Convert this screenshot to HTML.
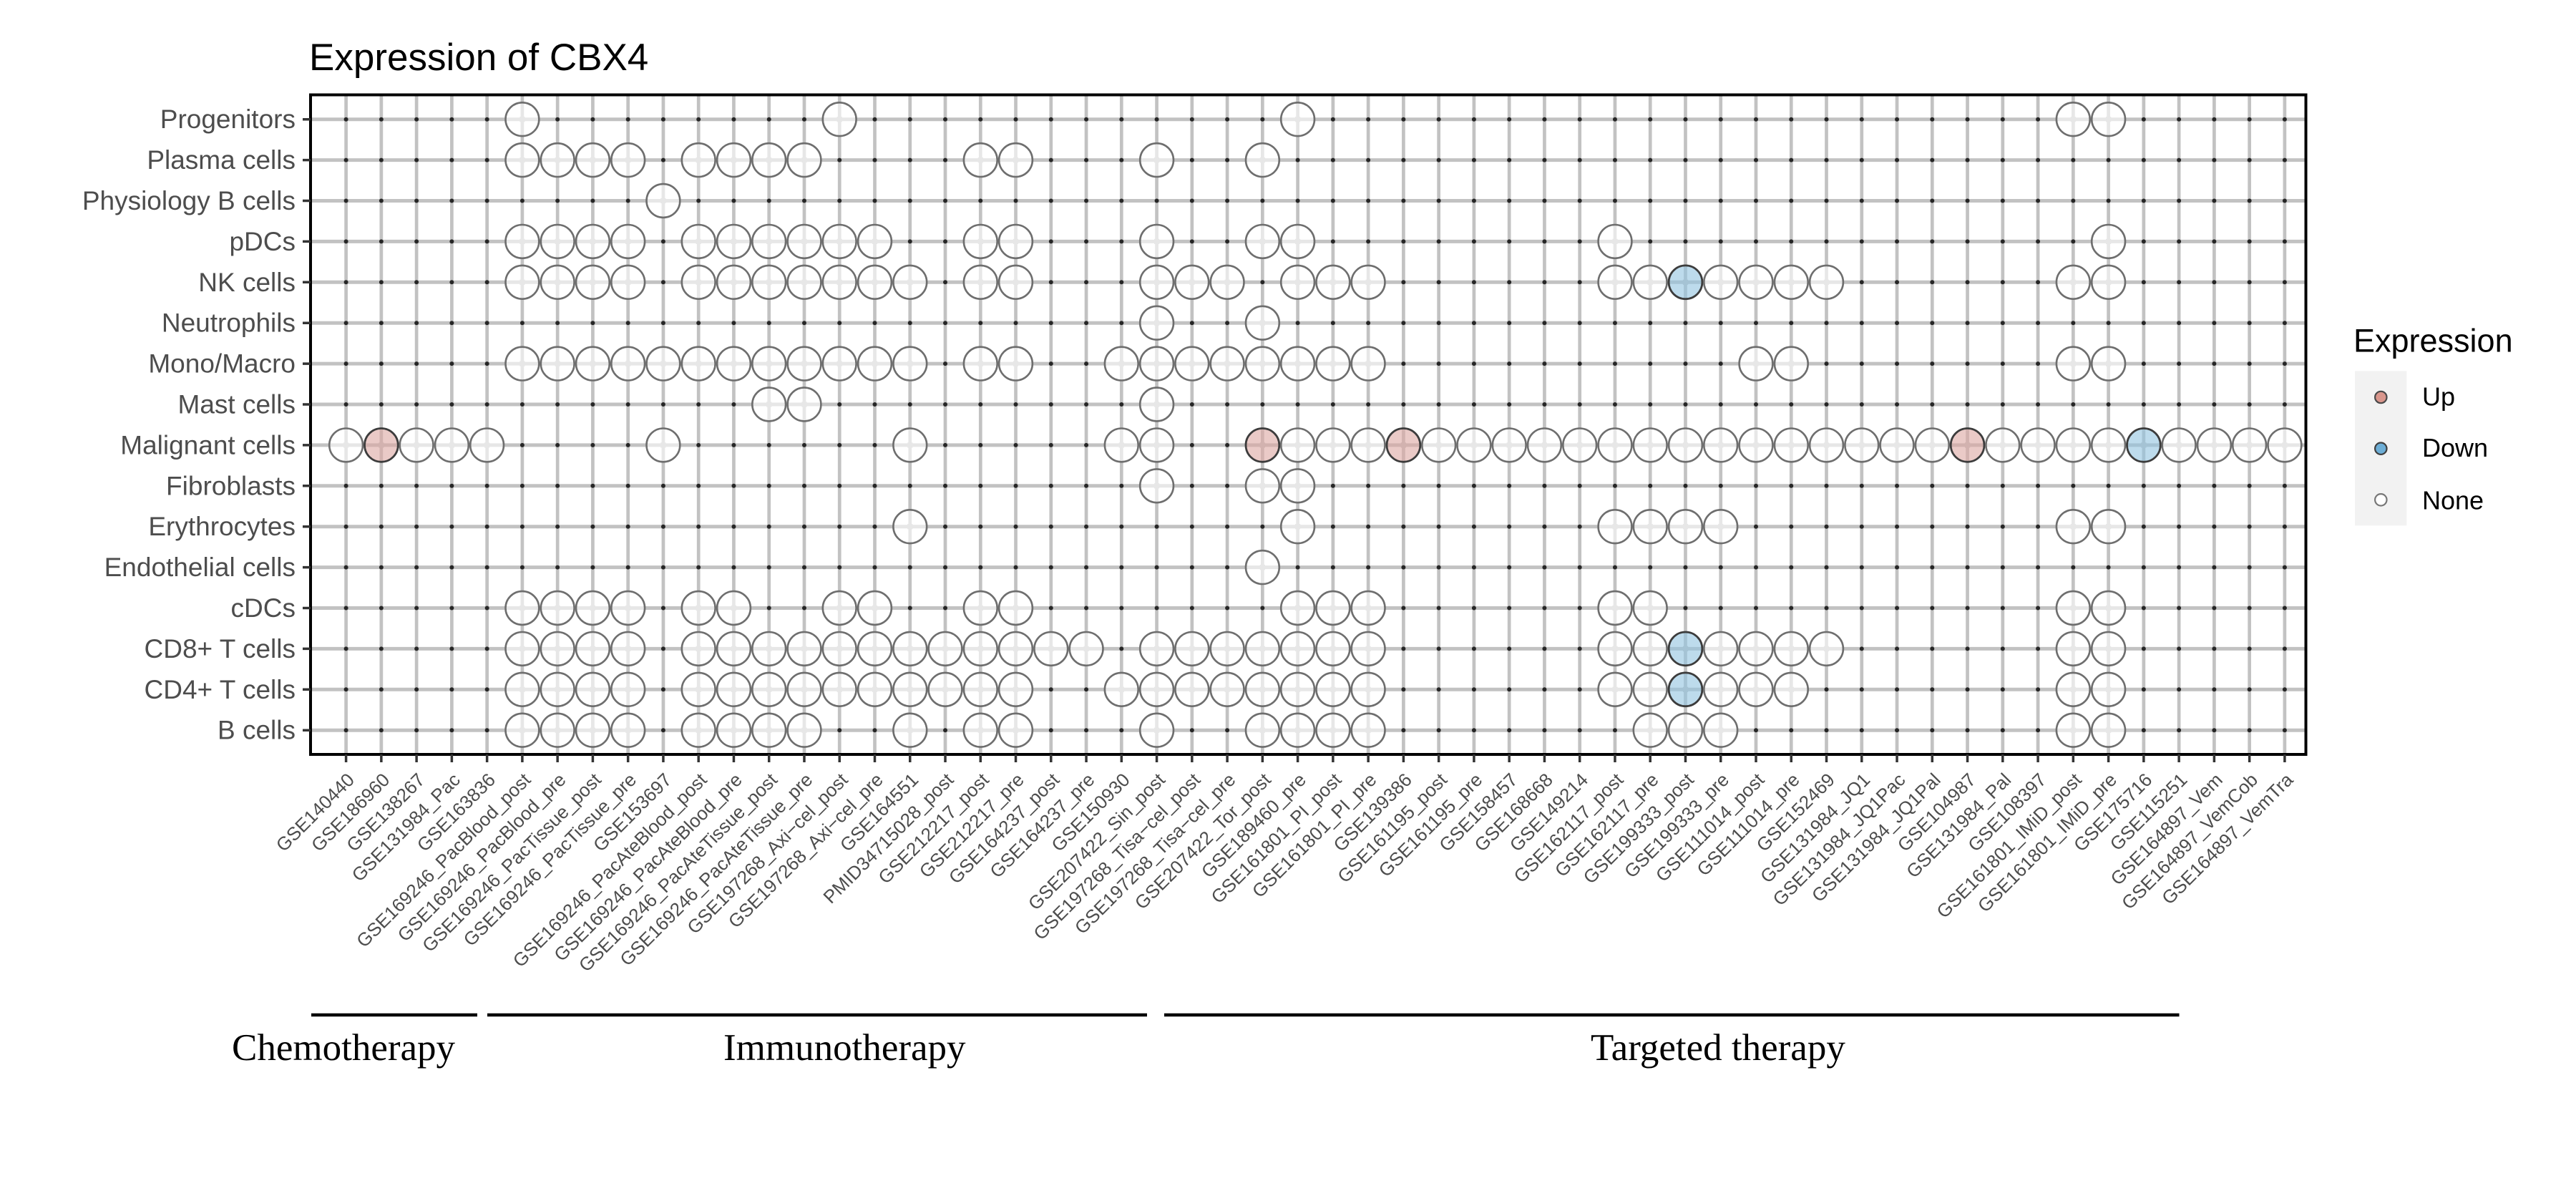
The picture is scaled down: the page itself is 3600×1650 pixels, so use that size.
<!DOCTYPE html>
<html><head><meta charset="utf-8"><style>
html,body{margin:0;padding:0;background:#fff;}
svg{display:block;}
text{font-family:"Liberation Sans",Arial,sans-serif;}
.yl{font-size:37px;fill:#4d4d4d;text-anchor:end;}
.xl{font-size:26px;fill:#4d4d4d;text-anchor:end;}
.dot{stroke:#262626;stroke-width:6;stroke-linecap:round;stroke-dasharray:0 49.26;}
.grp{font-family:"Liberation Serif","Times New Roman",serif;font-size:53px;fill:#000;}
.lg{font-size:36px;fill:#000;}
</style></head><body>
<svg width="3600" height="1650" viewBox="0 0 3600 1650" xmlns="http://www.w3.org/2000/svg">
<defs>
<g id="n"><rect x="-3.6" y="-3.6" width="7.2" height="7.2" fill="#c2c2c2"/><circle r="23.4" fill="#fff" fill-opacity="0.6" stroke="#6e6e6e" stroke-width="2.6"/></g>
<g id="u"><rect x="-3.6" y="-3.6" width="7.2" height="7.2" fill="#c2c2c2"/><circle r="23.4" fill="rgb(220,167,162)" fill-opacity="0.6" stroke="#3c3c3c" stroke-width="2.8"/></g>
<g id="d"><rect x="-3.6" y="-3.6" width="7.2" height="7.2" fill="#c2c2c2"/><circle r="23.4" fill="rgb(145,195,223)" fill-opacity="0.6" stroke="#3c3c3c" stroke-width="2.8"/></g>
</defs>
<rect width="3600" height="1650" fill="#fff"/>

<text x="432" y="98" font-size="53" fill="#000">Expression of CBX4</text>

<!-- grid -->
<line x1="481.25" x2="3210" y1="593" y2="593" stroke="#c2c2c2" stroke-width="918" stroke-dasharray="4.7 44.56"/>
<line x1="1828" x2="1828" y1="164.2" y2="1030" stroke="#c2c2c2" stroke-width="2786" stroke-dasharray="5 51.9"/>

<!-- dots -->
<line class="dot" x1="483.6" x2="3200" y1="166.7" y2="166.7"/>
<line class="dot" x1="483.6" x2="3200" y1="223.6" y2="223.6"/>
<line class="dot" x1="483.6" x2="3200" y1="280.5" y2="280.5"/>
<line class="dot" x1="483.6" x2="3200" y1="337.4" y2="337.4"/>
<line class="dot" x1="483.6" x2="3200" y1="394.3" y2="394.3"/>
<line class="dot" x1="483.6" x2="3200" y1="451.2" y2="451.2"/>
<line class="dot" x1="483.6" x2="3200" y1="508.1" y2="508.1"/>
<line class="dot" x1="483.6" x2="3200" y1="565" y2="565"/>
<line class="dot" x1="483.6" x2="3200" y1="621.9" y2="621.9"/>
<line class="dot" x1="483.6" x2="3200" y1="678.8" y2="678.8"/>
<line class="dot" x1="483.6" x2="3200" y1="735.7" y2="735.7"/>
<line class="dot" x1="483.6" x2="3200" y1="792.6" y2="792.6"/>
<line class="dot" x1="483.6" x2="3200" y1="849.5" y2="849.5"/>
<line class="dot" x1="483.6" x2="3200" y1="906.4" y2="906.4"/>
<line class="dot" x1="483.6" x2="3200" y1="963.3" y2="963.3"/>
<line class="dot" x1="483.6" x2="3200" y1="1020.2" y2="1020.2"/>

<!-- circles -->
<g transform="translate(0,166.7)">
<use href="#n" x="729.9"/><use href="#n" x="1173.2"/><use href="#n" x="1813.6"/><use href="#n" x="2897.3"/><use href="#n" x="2946.6"/>
</g>
<g transform="translate(0,223.6)">
<use href="#n" x="729.9"/><use href="#n" x="779.2"/><use href="#n" x="828.4"/><use href="#n" x="877.7"/><use href="#n" x="976.2"/><use href="#n" x="1025.5"/><use href="#n" x="1074.7"/><use href="#n" x="1124"/><use href="#n" x="1370.3"/><use href="#n" x="1419.5"/><use href="#n" x="1616.6"/><use href="#n" x="1764.4"/>
</g>
<g transform="translate(0,280.5)">
<use href="#n" x="926.9"/>
</g>
<g transform="translate(0,337.4)">
<use href="#n" x="729.9"/><use href="#n" x="779.2"/><use href="#n" x="828.4"/><use href="#n" x="877.7"/><use href="#n" x="976.2"/><use href="#n" x="1025.5"/><use href="#n" x="1074.7"/><use href="#n" x="1124"/><use href="#n" x="1173.2"/><use href="#n" x="1222.5"/><use href="#n" x="1370.3"/><use href="#n" x="1419.5"/><use href="#n" x="1616.6"/><use href="#n" x="1764.4"/><use href="#n" x="1813.6"/><use href="#n" x="2257"/><use href="#n" x="2946.6"/>
</g>
<g transform="translate(0,394.3)">
<use href="#n" x="729.9"/><use href="#n" x="779.2"/><use href="#n" x="828.4"/><use href="#n" x="877.7"/><use href="#n" x="976.2"/><use href="#n" x="1025.5"/><use href="#n" x="1074.7"/><use href="#n" x="1124"/><use href="#n" x="1173.2"/><use href="#n" x="1222.5"/><use href="#n" x="1271.8"/><use href="#n" x="1370.3"/><use href="#n" x="1419.5"/><use href="#n" x="1616.6"/><use href="#n" x="1665.8"/><use href="#n" x="1715.1"/><use href="#n" x="1813.6"/><use href="#n" x="1862.9"/><use href="#n" x="1912.1"/><use href="#n" x="2257"/><use href="#n" x="2306.2"/><use href="#d" x="2355.5"/><use href="#n" x="2404.7"/><use href="#n" x="2454"/><use href="#n" x="2503.3"/><use href="#n" x="2552.5"/><use href="#n" x="2897.3"/><use href="#n" x="2946.6"/>
</g>
<g transform="translate(0,451.2)">
<use href="#n" x="1616.6"/><use href="#n" x="1764.4"/>
</g>
<g transform="translate(0,508.1)">
<use href="#n" x="729.9"/><use href="#n" x="779.2"/><use href="#n" x="828.4"/><use href="#n" x="877.7"/><use href="#n" x="926.9"/><use href="#n" x="976.2"/><use href="#n" x="1025.5"/><use href="#n" x="1074.7"/><use href="#n" x="1124"/><use href="#n" x="1173.2"/><use href="#n" x="1222.5"/><use href="#n" x="1271.8"/><use href="#n" x="1370.3"/><use href="#n" x="1419.5"/><use href="#n" x="1567.3"/><use href="#n" x="1616.6"/><use href="#n" x="1665.8"/><use href="#n" x="1715.1"/><use href="#n" x="1764.4"/><use href="#n" x="1813.6"/><use href="#n" x="1862.9"/><use href="#n" x="1912.1"/><use href="#n" x="2454"/><use href="#n" x="2503.3"/><use href="#n" x="2897.3"/><use href="#n" x="2946.6"/>
</g>
<g transform="translate(0,565)">
<use href="#n" x="1074.7"/><use href="#n" x="1124"/><use href="#n" x="1616.6"/>
</g>
<g transform="translate(0,621.9)">
<use href="#n" x="483.6"/><use href="#u" x="532.9"/><use href="#n" x="582.1"/><use href="#n" x="631.4"/><use href="#n" x="680.6"/><use href="#n" x="926.9"/><use href="#n" x="1271.8"/><use href="#n" x="1567.3"/><use href="#n" x="1616.6"/><use href="#u" x="1764.4"/><use href="#n" x="1813.6"/><use href="#n" x="1862.9"/><use href="#n" x="1912.1"/><use href="#u" x="1961.4"/><use href="#n" x="2010.7"/><use href="#n" x="2059.9"/><use href="#n" x="2109.2"/><use href="#n" x="2158.4"/><use href="#n" x="2207.7"/><use href="#n" x="2257"/><use href="#n" x="2306.2"/><use href="#n" x="2355.5"/><use href="#n" x="2404.7"/><use href="#n" x="2454"/><use href="#n" x="2503.3"/><use href="#n" x="2552.5"/><use href="#n" x="2601.8"/><use href="#n" x="2651"/><use href="#n" x="2700.3"/><use href="#u" x="2749.6"/><use href="#n" x="2798.8"/><use href="#n" x="2848.1"/><use href="#n" x="2897.3"/><use href="#n" x="2946.6"/><use href="#d" x="2995.9"/><use href="#n" x="3045.1"/><use href="#n" x="3094.4"/><use href="#n" x="3143.6"/><use href="#n" x="3192.9"/>
</g>
<g transform="translate(0,678.8)">
<use href="#n" x="1616.6"/><use href="#n" x="1764.4"/><use href="#n" x="1813.6"/>
</g>
<g transform="translate(0,735.7)">
<use href="#n" x="1271.8"/><use href="#n" x="1813.6"/><use href="#n" x="2257"/><use href="#n" x="2306.2"/><use href="#n" x="2355.5"/><use href="#n" x="2404.7"/><use href="#n" x="2897.3"/><use href="#n" x="2946.6"/>
</g>
<g transform="translate(0,792.6)">
<use href="#n" x="1764.4"/>
</g>
<g transform="translate(0,849.5)">
<use href="#n" x="729.9"/><use href="#n" x="779.2"/><use href="#n" x="828.4"/><use href="#n" x="877.7"/><use href="#n" x="976.2"/><use href="#n" x="1025.5"/><use href="#n" x="1173.2"/><use href="#n" x="1222.5"/><use href="#n" x="1370.3"/><use href="#n" x="1419.5"/><use href="#n" x="1813.6"/><use href="#n" x="1862.9"/><use href="#n" x="1912.1"/><use href="#n" x="2257"/><use href="#n" x="2306.2"/><use href="#n" x="2897.3"/><use href="#n" x="2946.6"/>
</g>
<g transform="translate(0,906.4)">
<use href="#n" x="729.9"/><use href="#n" x="779.2"/><use href="#n" x="828.4"/><use href="#n" x="877.7"/><use href="#n" x="976.2"/><use href="#n" x="1025.5"/><use href="#n" x="1074.7"/><use href="#n" x="1124"/><use href="#n" x="1173.2"/><use href="#n" x="1222.5"/><use href="#n" x="1271.8"/><use href="#n" x="1321"/><use href="#n" x="1370.3"/><use href="#n" x="1419.5"/><use href="#n" x="1468.8"/><use href="#n" x="1518.1"/><use href="#n" x="1616.6"/><use href="#n" x="1665.8"/><use href="#n" x="1715.1"/><use href="#n" x="1764.4"/><use href="#n" x="1813.6"/><use href="#n" x="1862.9"/><use href="#n" x="1912.1"/><use href="#n" x="2257"/><use href="#n" x="2306.2"/><use href="#d" x="2355.5"/><use href="#n" x="2404.7"/><use href="#n" x="2454"/><use href="#n" x="2503.3"/><use href="#n" x="2552.5"/><use href="#n" x="2897.3"/><use href="#n" x="2946.6"/>
</g>
<g transform="translate(0,963.3)">
<use href="#n" x="729.9"/><use href="#n" x="779.2"/><use href="#n" x="828.4"/><use href="#n" x="877.7"/><use href="#n" x="976.2"/><use href="#n" x="1025.5"/><use href="#n" x="1074.7"/><use href="#n" x="1124"/><use href="#n" x="1173.2"/><use href="#n" x="1222.5"/><use href="#n" x="1271.8"/><use href="#n" x="1321"/><use href="#n" x="1370.3"/><use href="#n" x="1419.5"/><use href="#n" x="1567.3"/><use href="#n" x="1616.6"/><use href="#n" x="1665.8"/><use href="#n" x="1715.1"/><use href="#n" x="1764.4"/><use href="#n" x="1813.6"/><use href="#n" x="1862.9"/><use href="#n" x="1912.1"/><use href="#n" x="2257"/><use href="#n" x="2306.2"/><use href="#d" x="2355.5"/><use href="#n" x="2404.7"/><use href="#n" x="2454"/><use href="#n" x="2503.3"/><use href="#n" x="2897.3"/><use href="#n" x="2946.6"/>
</g>
<g transform="translate(0,1020.2)">
<use href="#n" x="729.9"/><use href="#n" x="779.2"/><use href="#n" x="828.4"/><use href="#n" x="877.7"/><use href="#n" x="976.2"/><use href="#n" x="1025.5"/><use href="#n" x="1074.7"/><use href="#n" x="1124"/><use href="#n" x="1271.8"/><use href="#n" x="1370.3"/><use href="#n" x="1419.5"/><use href="#n" x="1616.6"/><use href="#n" x="1764.4"/><use href="#n" x="1813.6"/><use href="#n" x="1862.9"/><use href="#n" x="1912.1"/><use href="#n" x="2306.2"/><use href="#n" x="2355.5"/><use href="#n" x="2404.7"/><use href="#n" x="2897.3"/><use href="#n" x="2946.6"/>
</g>

<!-- border & ticks -->
<rect x="434" y="132.5" width="2788.5" height="921.5" fill="none" stroke="#000" stroke-width="4"/>
<line x1="428.5" x2="428.5" y1="164.95" y2="1030" stroke="#333" stroke-width="11" stroke-dasharray="3.5 53.4"/>
<line x1="481.85" x2="3210" y1="1059.5" y2="1059.5" stroke="#333" stroke-width="11" stroke-dasharray="3.5 45.76"/>

<!-- y labels -->
<text class="yl" x="413" y="179.2">Progenitors</text>
<text class="yl" x="413" y="236.1">Plasma cells</text>
<text class="yl" x="413" y="293">Physiology B cells</text>
<text class="yl" x="413" y="349.9">pDCs</text>
<text class="yl" x="413" y="406.8">NK cells</text>
<text class="yl" x="413" y="463.7">Neutrophils</text>
<text class="yl" x="413" y="520.6">Mono/Macro</text>
<text class="yl" x="413" y="577.5">Mast cells</text>
<text class="yl" x="413" y="634.4">Malignant cells</text>
<text class="yl" x="413" y="691.3">Fibroblasts</text>
<text class="yl" x="413" y="748.2">Erythrocytes</text>
<text class="yl" x="413" y="805.1">Endothelial cells</text>
<text class="yl" x="413" y="862">cDCs</text>
<text class="yl" x="413" y="918.9">CD8+ T cells</text>
<text class="yl" x="413" y="975.8">CD4+ T cells</text>
<text class="yl" x="413" y="1032.7">B cells</text>

<!-- x labels -->
<g class="xl">
<text class="xl" transform="translate(483.6,1078) rotate(-45)" y="18.6">GSE140440</text>
<text class="xl" transform="translate(532.9,1078) rotate(-45)" y="18.6">GSE186960</text>
<text class="xl" transform="translate(582.1,1078) rotate(-45)" y="18.6">GSE138267</text>
<text class="xl" transform="translate(631.4,1078) rotate(-45)" y="18.6">GSE131984_Pac</text>
<text class="xl" transform="translate(680.6,1078) rotate(-45)" y="18.6">GSE163836</text>
<text class="xl" transform="translate(729.9,1078) rotate(-45)" y="18.6">GSE169246_PacBlood_post</text>
<text class="xl" transform="translate(779.2,1078) rotate(-45)" y="18.6">GSE169246_PacBlood_pre</text>
<text class="xl" transform="translate(828.4,1078) rotate(-45)" y="18.6">GSE169246_PacTissue_post</text>
<text class="xl" transform="translate(877.7,1078) rotate(-45)" y="18.6">GSE169246_PacTissue_pre</text>
<text class="xl" transform="translate(926.9,1078) rotate(-45)" y="18.6">GSE153697</text>
<text class="xl" transform="translate(976.2,1078) rotate(-45)" y="18.6">GSE169246_PacAteBlood_post</text>
<text class="xl" transform="translate(1025.5,1078) rotate(-45)" y="18.6">GSE169246_PacAteBlood_pre</text>
<text class="xl" transform="translate(1074.7,1078) rotate(-45)" y="18.6">GSE169246_PacAteTissue_post</text>
<text class="xl" transform="translate(1124,1078) rotate(-45)" y="18.6">GSE169246_PacAteTissue_pre</text>
<text class="xl" transform="translate(1173.2,1078) rotate(-45)" y="18.6">GSE197268_Axi−cel_post</text>
<text class="xl" transform="translate(1222.5,1078) rotate(-45)" y="18.6">GSE197268_Axi−cel_pre</text>
<text class="xl" transform="translate(1271.8,1078) rotate(-45)" y="18.6">GSE164551</text>
<text class="xl" transform="translate(1321,1078) rotate(-45)" y="18.6">PMID34715028_post</text>
<text class="xl" transform="translate(1370.3,1078) rotate(-45)" y="18.6">GSE212217_post</text>
<text class="xl" transform="translate(1419.5,1078) rotate(-45)" y="18.6">GSE212217_pre</text>
<text class="xl" transform="translate(1468.8,1078) rotate(-45)" y="18.6">GSE164237_post</text>
<text class="xl" transform="translate(1518.1,1078) rotate(-45)" y="18.6">GSE164237_pre</text>
<text class="xl" transform="translate(1567.3,1078) rotate(-45)" y="18.6">GSE150930</text>
<text class="xl" transform="translate(1616.6,1078) rotate(-45)" y="18.6">GSE207422_Sin_post</text>
<text class="xl" transform="translate(1665.8,1078) rotate(-45)" y="18.6">GSE197268_Tisa−cel_post</text>
<text class="xl" transform="translate(1715.1,1078) rotate(-45)" y="18.6">GSE197268_Tisa−cel_pre</text>
<text class="xl" transform="translate(1764.4,1078) rotate(-45)" y="18.6">GSE207422_Tor_post</text>
<text class="xl" transform="translate(1813.6,1078) rotate(-45)" y="18.6">GSE189460_pre</text>
<text class="xl" transform="translate(1862.9,1078) rotate(-45)" y="18.6">GSE161801_PI_post</text>
<text class="xl" transform="translate(1912.1,1078) rotate(-45)" y="18.6">GSE161801_PI_pre</text>
<text class="xl" transform="translate(1961.4,1078) rotate(-45)" y="18.6">GSE139386</text>
<text class="xl" transform="translate(2010.7,1078) rotate(-45)" y="18.6">GSE161195_post</text>
<text class="xl" transform="translate(2059.9,1078) rotate(-45)" y="18.6">GSE161195_pre</text>
<text class="xl" transform="translate(2109.2,1078) rotate(-45)" y="18.6">GSE158457</text>
<text class="xl" transform="translate(2158.4,1078) rotate(-45)" y="18.6">GSE168668</text>
<text class="xl" transform="translate(2207.7,1078) rotate(-45)" y="18.6">GSE149214</text>
<text class="xl" transform="translate(2257,1078) rotate(-45)" y="18.6">GSE162117_post</text>
<text class="xl" transform="translate(2306.2,1078) rotate(-45)" y="18.6">GSE162117_pre</text>
<text class="xl" transform="translate(2355.5,1078) rotate(-45)" y="18.6">GSE199333_post</text>
<text class="xl" transform="translate(2404.7,1078) rotate(-45)" y="18.6">GSE199333_pre</text>
<text class="xl" transform="translate(2454,1078) rotate(-45)" y="18.6">GSE111014_post</text>
<text class="xl" transform="translate(2503.3,1078) rotate(-45)" y="18.6">GSE111014_pre</text>
<text class="xl" transform="translate(2552.5,1078) rotate(-45)" y="18.6">GSE152469</text>
<text class="xl" transform="translate(2601.8,1078) rotate(-45)" y="18.6">GSE131984_JQ1</text>
<text class="xl" transform="translate(2651,1078) rotate(-45)" y="18.6">GSE131984_JQ1Pac</text>
<text class="xl" transform="translate(2700.3,1078) rotate(-45)" y="18.6">GSE131984_JQ1Pal</text>
<text class="xl" transform="translate(2749.6,1078) rotate(-45)" y="18.6">GSE104987</text>
<text class="xl" transform="translate(2798.8,1078) rotate(-45)" y="18.6">GSE131984_Pal</text>
<text class="xl" transform="translate(2848.1,1078) rotate(-45)" y="18.6">GSE108397</text>
<text class="xl" transform="translate(2897.3,1078) rotate(-45)" y="18.6">GSE161801_IMiD_post</text>
<text class="xl" transform="translate(2946.6,1078) rotate(-45)" y="18.6">GSE161801_IMiD_pre</text>
<text class="xl" transform="translate(2995.9,1078) rotate(-45)" y="18.6">GSE175716</text>
<text class="xl" transform="translate(3045.1,1078) rotate(-45)" y="18.6">GSE115251</text>
<text class="xl" transform="translate(3094.4,1078) rotate(-45)" y="18.6">GSE164897_Vem</text>
<text class="xl" transform="translate(3143.6,1078) rotate(-45)" y="18.6">GSE164897_VemCob</text>
<text class="xl" transform="translate(3192.9,1078) rotate(-45)" y="18.6">GSE164897_VemTra</text>
</g>

<!-- group annotations -->
<line x1="435" x2="667" y1="1418" y2="1418" stroke="#000" stroke-width="4.5"/>
<line x1="681" x2="1603" y1="1418" y2="1418" stroke="#000" stroke-width="4.5"/>
<line x1="1627" x2="3045.5" y1="1418" y2="1418" stroke="#000" stroke-width="4.5"/>
<text class="grp" x="324" y="1481">Chemotherapy</text>
<text class="grp" x="1011" y="1481">Immunotherapy</text>
<text class="grp" x="2223" y="1481">Targeted therapy</text>

<!-- legend -->
<text x="3289" y="491.7" font-size="45" fill="#000">Expression</text>
<rect x="3291" y="518.3" width="72.3" height="216" fill="#f2f2f2"/>
<circle cx="3327.3" cy="555" r="8.2" fill="#d9968c" stroke="#4a4a4a" stroke-width="2.2"/>
<circle cx="3327.3" cy="626.7" r="8.2" fill="#6daed6" stroke="#3f3f3f" stroke-width="2.2"/>
<circle cx="3327.3" cy="698.3" r="8.2" fill="#fff" stroke="#777" stroke-width="2.2"/>
<text class="lg" x="3385" y="566.7">Up</text>
<text class="lg" x="3385" y="638.2">Down</text>
<text class="lg" x="3385" y="711.7">None</text>
</svg>
</body></html>
